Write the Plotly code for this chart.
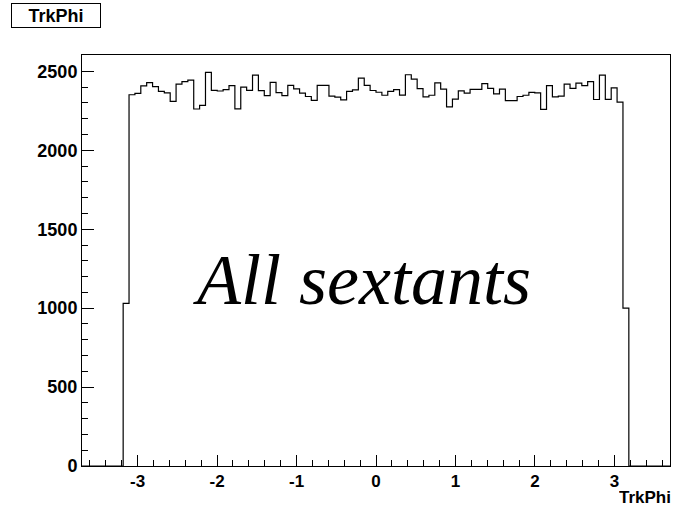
import numpy as np
import plotly.graph_objects as go

# Histogram binning (100 bins over [-3.7, 3.7])
n_bins = 100
phi_min, phi_max = -3.7, 3.7
first_filled_bin = 7

# Entries per bin, starting at first_filled_bin
trkphi_counts = [
    1030, 2352, 2361, 2408, 2429, 2403, 2373, 2364, 2310, 2420,
    2435, 2445, 2262, 2285, 2494, 2380, 2376, 2385, 2410, 2263,
    2400, 2380, 2476, 2378, 2347, 2430, 2365, 2347, 2411, 2390,
    2362, 2341, 2316, 2411, 2411, 2343, 2337, 2320, 2373, 2383,
    2457, 2411, 2379, 2368, 2349, 2373, 2384, 2350, 2479, 2451,
    2391, 2339, 2349, 2428, 2388, 2275, 2325, 2377, 2362, 2386,
    2386, 2423, 2392, 2358, 2388, 2315, 2315, 2341, 2349, 2367,
    2364, 2260, 2410, 2339, 2344, 2419, 2392, 2426, 2410, 2435,
    2322, 2476, 2323, 2396, 2306, 1000,
]

x_ticks = [-3, -2, -1, 0, 1, 2, 3]
y_ticks = [0, 500, 1000, 1500, 2000, 2500]

counts = np.zeros(n_bins)
counts[first_filled_bin:first_filled_bin + len(trkphi_counts)] = trkphi_counts
edges = np.linspace(phi_min, phi_max, n_bins + 1)

# Step outline of the histogram
step_x = edges
step_y = np.append(counts, counts[-1])

font_family = "Liberation Sans, Arial, Helvetica, sans-serif"
label_font = dict(family=font_family, size=18, color="black", weight="bold")
xlabel_font = dict(family=font_family, size=17, color="black", weight="bold")

fig = go.Figure()
fig.add_trace(go.Scatter(
    x=step_x, y=step_y, mode="lines", line_shape="hv",
    line=dict(color="black", width=1.2), hoverinfo="skip", showlegend=False,
))

fig.update_layout(
    width=675, height=509,
    margin=dict(l=82, r=5, t=55, b=43),
    paper_bgcolor="white", plot_bgcolor="white",
    showlegend=False,
    xaxis=dict(
        range=[phi_min, phi_max], tickmode="array", tickvals=x_ticks,
        ticktext=[str(v) for v in x_ticks],
        ticks="inside", ticklen=11, tickwidth=1, tickcolor="black",
        minor=dict(dtick=0.2, tick0=0, ticks="inside", ticklen=6,
                   tickwidth=1, tickcolor="black", showgrid=False),
        showgrid=False, zeroline=False,
        showline=True, linecolor="black", linewidth=1, mirror=True,
        tickfont=xlabel_font,
    ),
    yaxis=dict(
        range=[0, 2604], tickmode="array", tickvals=y_ticks,
        ticktext=[str(v) for v in y_ticks],
        ticks="inside", ticklen=12, tickwidth=1, tickcolor="black",
        minor=dict(dtick=100, tick0=0, ticks="inside", ticklen=6,
                   tickwidth=1, tickcolor="black", showgrid=False),
        showgrid=False, zeroline=False,
        showline=True, linecolor="black", linewidth=1, mirror=True,
        tickfont=label_font,
    ),
    annotations=[
        # histogram title box
        dict(text="TrkPhi", xref="paper", yref="paper",
             x=-0.0435, y=1.0949, xanchor="center", yanchor="middle",
             showarrow=False, width=86, height=21, borderpad=1,
             bordercolor="black", borderwidth=1, bgcolor="white",
             font=label_font),
        # x-axis title, tucked under the right end of the axis
        dict(text="TrkPhi", xref="paper", yref="paper",
             x=1.0058, y=-0.1046, xanchor="right", yanchor="bottom",
             showarrow=False, height=16, valign="bottom", font=xlabel_font),
        # caption inside the frame
        dict(text="<i>All sextants</i>", xref="x", yref="y",
             x=-0.18, y=1180, xanchor="center", yanchor="middle",
             showarrow=False,
             font=dict(family="Liberation Serif, Times New Roman, serif",
                       size=72, color="black")),
    ],
)

fig.write_html("out.html")
